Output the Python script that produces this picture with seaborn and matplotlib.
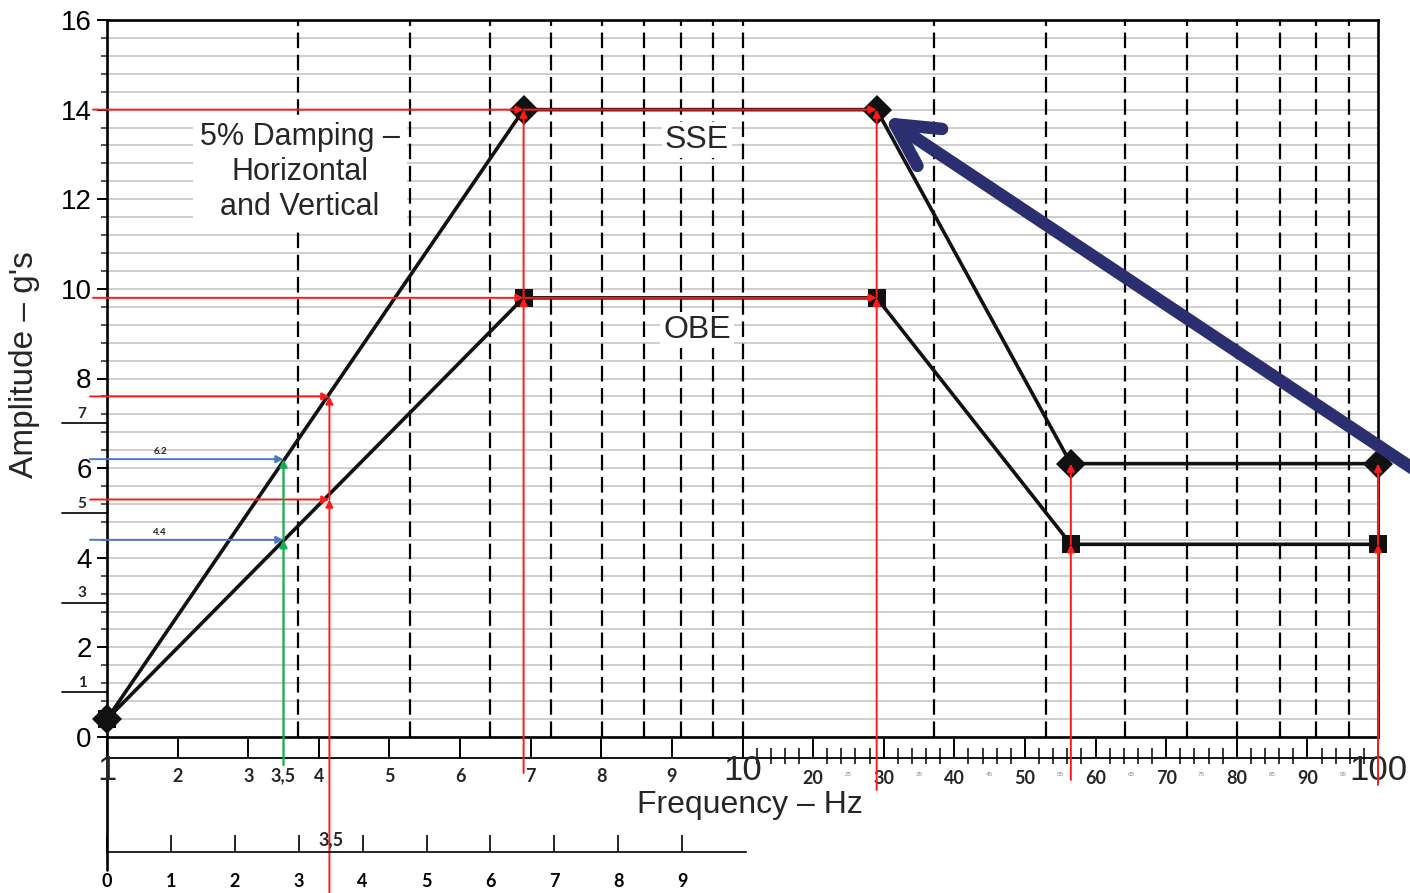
"""Seismic response spectrum chart (SSE / OBE, 5% damping)."""

import matplotlib

matplotlib.use("Agg")
import matplotlib.pyplot as plt
import numpy as np
import pandas as pd
import seaborn as sns

# ---- data -------------------------------------------------------------
sse_freq = [1, 6.9, 29, 56.5, 100]
sse_amp = [0.4, 14, 14, 6.1, 6.1]
obe_freq = [1, 6.9, 29, 56.5, 100]
obe_amp = [0.4, 9.8, 9.8, 4.3, 4.3]

y_major = [0, 2, 4, 6, 8, 10, 12, 14, 16]
y_small_marks = [1, 3, 5, 7]
x_major_hz = [1, 2, 3, 4, 5, 6, 7, 8, 9, 10, 20, 30, 40, 50, 60, 70, 80, 90, 100]
x_minor_hz = [f for f in range(12, 100, 2) if f % 10]
x_tiny_hz = [25, 35, 45, 55, 65, 75, 85, 95]
log_grid_hz = [2, 3, 4, 5, 6, 7, 8, 9, 10, 20, 30, 40, 50, 60, 70, 80, 90]
lower_ticks = [0, 1, 2, 3, 4, 5, 6, 7, 8, 9]

green_hz = 3.5
blue_reads = [6.2, 4.4]
blue_labels = ["6.2", "4.4"]
red_hz = 4.15
red_reads = [7.6, 5.3]

# ---- style ---------------------------------------------------------------
sns.set_theme(style="white")
plt.rcParams["font.family"] = ["Liberation Sans", "DejaVu Sans"]
BOLD = ["Lato", "DejaVu Sans"]
RED = "#ff1a1a"
BLUE = "#4a78c8"
GREEN = "#10b04a"
NAVY = "#2b2f70"

W, H = 1410, 893
fig = plt.figure(figsize=(W / 100, H / 100), dpi=100)
ax = fig.add_axes([107 / W, 1 - 737 / H, 1271 / W, 717 / H])


def px_y(y):
    """pixel row -> axes fraction of the main axes"""
    return (737 - y) / 717


def px_x(x):
    return (x - 107) / 1271


def fwd(f):
    f = np.asarray(f, dtype=float)
    return np.where(f <= 10, f, 10 + (f - 10) / 10)


def inv(u):
    u = np.asarray(u, dtype=float)
    return np.where(u <= 10, u, 10 + (u - 10) * 10)


ax.set_xscale("function", functions=(fwd, inv))
ax.set_xlim(1, 100)
ax.set_ylim(0, 16)

# horizontal grid every 0.4 g
ax.set_yticks(y_major)
ax.set_yticks(np.arange(0, 16.01, 0.4), minor=True)
ax.grid(which="both", axis="y", color="#c2c2c2", lw=1.1)
ax.grid(False, axis="x")
ax.set_axisbelow(True)
ax.tick_params(axis="y", which="major", direction="out", length=7, width=1.4,
               pad=4, labelsize=20, left=True, colors="black")
ax.tick_params(axis="y", which="minor", direction="out", length=4.5, width=1.1, left=True)
for s in ax.spines.values():
    s.set_color("black")
    s.set_linewidth(1.9)

# log-paper dashed verticals
log_pos = np.log10(log_grid_hz) / 2
ax.vlines(log_pos, 0, 1, transform=ax.transAxes, colors="black",
          linestyles=(0, (7, 3)), lw=1.6, zorder=1.5)
ax.vlines(log_pos, 0, px_y(725), transform=ax.transAxes, colors="black", lw=1.4, zorder=1.5)

# x ticks: drawn, labels written by hand
ax.set_xticks(x_major_hz)
ax.set_xticklabels([])
ax.set_xticks([], minor=True)
ax.tick_params(axis="x", which="major", direction="out", length=15, width=1.4,
               bottom=True, colors="black")
xt = ax.get_xaxis_transform()
ax.vlines(x_minor_hz, px_y(748), px_y(764), transform=xt, colors="black", lw=1.1, clip_on=False)
ax.plot([0, 1], [px_y(758), px_y(758)], transform=ax.transAxes, color="black", lw=1.3, clip_on=False)
ax.plot([0, 0], [0, px_y(870)], transform=ax.transAxes, color="black", lw=1.9, clip_on=False)

for f in x_major_hz:
    if f in (1, 10, 100):
        ax.text(f, px_y(770), str(f), transform=xt, ha="center", va="center",
                fontsize=25, clip_on=False)
    else:
        yc = 776 if f < 10 else 779
        ax.text(f, px_y(yc), str(f), transform=xt, ha="center", va="center",
                fontsize=13, fontweight="bold", family=BOLD)
ax.text(green_hz, px_y(776), "3,5", transform=xt, ha="center", va="center",
        fontsize=13, fontweight="bold", family=BOLD)
for f in x_tiny_hz:
    ax.text(f, px_y(775), str(f), transform=xt, ha="center", va="center",
            fontsize=4.5, color="#888888")

# small extra amplitude marks on the left
yt = ax.get_yaxis_transform()
for v in y_small_marks:
    ax.plot([px_x(62), 0], [v, v], transform=yt, color="black", lw=1.2, clip_on=False)
    ax.text(px_x(82), v + 0.05, str(v), transform=yt, ha="center", va="bottom",
            fontsize=11, fontweight="bold", family=BOLD)

# spectra
sns.lineplot(x=sse_freq, y=sse_amp, ax=ax, color="#111111", lw=2.6, marker="D",
             markersize=15, markeredgewidth=0, sort=False, estimator=None,
             clip_on=False, zorder=3)
sns.lineplot(x=obe_freq, y=obe_amp, ax=ax, color="#111111", lw=2.6, marker="s",
             markersize=13, markeredgewidth=0, sort=False, estimator=None,
             clip_on=False, zorder=3)


def arrow(tip, tail, color, tip_coords="data", tail_coords="data", lw=1.4):
    ax.annotate("", xy=tip, xytext=tail, xycoords=tip_coords, textcoords=tail_coords,
                arrowprops=dict(arrowstyle="-|>", color=color, lw=lw, mutation_scale=11,
                                shrinkA=0, shrinkB=0), zorder=4)


left_coords = ("axes fraction", "data")
below_coords = ("data", "axes fraction")

# red reading lines at the plateaus
for amp in (sse_amp[1], obe_amp[1]):
    arrow((sse_freq[1], amp), (px_x(93), amp), RED, tail_coords=left_coords)
    arrow((sse_freq[2], amp), (sse_freq[1], amp), RED)
bottoms = [773, 790, 780, 785]
for f, lo, hi, b in zip(sse_freq[1:], obe_amp[1:], sse_amp[1:], bottoms):
    arrow((f, lo), (f, px_y(b)), RED, tail_coords=below_coords)
    arrow((f, hi), (f, lo), RED)

# red reading at 4.15 Hz
for v in red_reads:
    arrow((red_hz, v), (px_x(90), v), RED, tail_coords=left_coords)
arrow((red_hz, min(red_reads)), (red_hz, px_y(893)), RED, tail_coords=below_coords)
arrow((red_hz, max(red_reads)), (red_hz, min(red_reads)), RED)

# blue / green reading at 3.5 Hz
for v, lab in zip(blue_reads, blue_labels):
    arrow((green_hz, v), (px_x(90), v), BLUE, tail_coords=left_coords)
    ax.text(px_x(160), v + 0.06, lab, transform=yt, ha="center", va="bottom",
            fontsize=7, fontweight="bold", family=BOLD, color="#222222")
arrow((green_hz, min(blue_reads)), (green_hz, px_y(765)), GREEN, tail_coords=below_coords, lw=1.6)
arrow((green_hz, max(blue_reads)), (green_hz, min(blue_reads)), GREEN, lw=1.6)

# annotations
box = dict(facecolor="white", edgecolor="none", pad=5)
ax.text(px_x(300), px_y(172), "5% Damping \u2013\nHorizontal\nand Vertical",
        transform=ax.transAxes, ha="center", va="center", fontsize=22,
        linespacing=1.2, bbox=box, zorder=2)
ax.text(px_x(697), px_y(140), "SSE", transform=ax.transAxes, ha="center", va="center",
        fontsize=23, bbox=dict(facecolor="white", edgecolor="none", pad=2), zorder=2)
ax.text(px_x(697), px_y(330), "OBE", transform=ax.transAxes, ha="center", va="center",
        fontsize=23, bbox=dict(facecolor="white", edgecolor="none", pad=2), zorder=2)

fig.text(750 / W, 1 - 805 / H, "Frequency \u2013 Hz", ha="center", va="center", fontsize=23)
fig.text(25 / W, 1 - 365 / H, "Amplitude \u2013 g's", ha="center", va="center",
         fontsize=24, rotation=90)

# navy pointer
fig.add_artist(matplotlib.patches.FancyArrowPatch(
    (1445 / W, 1 - 490 / H), (884 / W, 1 - 117 / H), transform=fig.transFigure,
    arrowstyle="->,head_length=1.5,head_width=0.8", mutation_scale=20,
    lw=9, color=NAVY, shrinkA=0, shrinkB=0, zorder=10))

# auxiliary 0-10 scale underneath
ax_low = fig.add_axes([107 / W, (H - 852) / H, 639 / W, 20 / H])
ax_low.set_xlim(0, 10)
ax_low.set_ylim(0, 1)
ax_low.patch.set_alpha(0)
for name, s in ax_low.spines.items():
    s.set_visible(name == "bottom")
ax_low.spines["bottom"].set_linewidth(1.2)
ax_low.spines["bottom"].set_color("black")
ax_low.set_yticks([])
ax_low.set_xticks(lower_ticks)
ax_low.set_xticklabels([str(t) for t in lower_ticks], fontweight="bold", family=BOLD)
ax_low.tick_params(axis="x", direction="in", length=12, width=1.2, pad=15,
                   labelsize=13, bottom=True, colors="black")
ax_low.text(3.5, 0.6, "3,5", transform=ax_low.get_xaxis_transform(), ha="center",
            va="center", fontsize=13, fontweight="bold", family=BOLD)

fig.savefig("out.png", dpi=100)
